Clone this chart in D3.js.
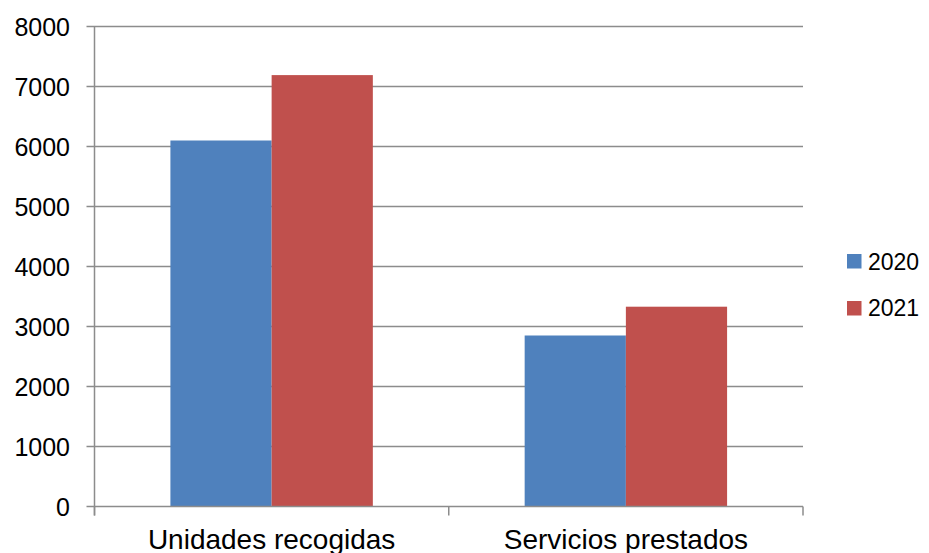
<!DOCTYPE html>
<html><head><meta charset="utf-8">
<script src="https://cdn.jsdelivr.net/npm/d3@7"></script>
<style>body{margin:0;background:#fff}svg{display:block}text{font-family:"Liberation Sans",Arial,sans-serif;fill:#000}</style>
</head><body><svg id="c" width="929" height="553"></svg>
<script>
const categories = ["Unidades recogidas", "Servicios prestados"];
const seriesNames = ["2020", "2021"];
const values2020 = [6100, 2850];
const values2021 = [7190, 3330];
const yTicks = [0, 1000, 2000, 3000, 4000, 5000, 6000, 7000, 8000];
const colors = ["#4F81BD", "#C0504D"];
const seriesValues = [values2020, values2021];

const svg = d3.select("#c");
const pLeft = 94.5, pRight = 803, pTop = 26.5, pBottom = 506.5;
const x = d3.scaleBand().domain(categories).range([pLeft, pRight]);
const x1 = d3.scaleBand().domain(seriesNames).range([0, x.bandwidth()]).paddingOuter(0.75).paddingInner(0);
const y = d3.scaleLinear().domain([0, 8000]).range([pBottom, pTop]);

// grid
svg.append("g").selectAll("line").data(yTicks.filter(d => d > 0)).join("line")
  .attr("x1", pLeft - 8).attr("x2", pRight).attr("y1", d => y(d)).attr("y2", d => y(d))
  .attr("stroke", "#8c8c8c").attr("stroke-width", 1.5);

// bars
categories.forEach((c, i) => {
  seriesNames.forEach((s, j) => {
    svg.append("rect")
      .attr("x", x(c) + x1(s)).attr("width", x1.bandwidth())
      .attr("y", y(seriesValues[j][i])).attr("height", y(0) - y(seriesValues[j][i]))
      .attr("fill", colors[j]);
  });
});

// axes lines
svg.append("line").attr("x1", pLeft).attr("x2", pLeft).attr("y1", pTop).attr("y2", pBottom + 9)
  .attr("stroke", "#8c8c8c").attr("stroke-width", 1.5);
svg.append("line").attr("x1", pLeft - 8).attr("x2", pRight).attr("y1", pBottom).attr("y2", pBottom)
  .attr("stroke", "#8c8c8c").attr("stroke-width", 1.5);
// category ticks
const catTicks = [pLeft, ...categories.map(c => x(c) + x.bandwidth())];
svg.append("g").selectAll("line").data(catTicks).join("line")
  .attr("x1", d => d).attr("x2", d => d).attr("y1", pBottom).attr("y2", pBottom + 9)
  .attr("stroke", "#8c8c8c").attr("stroke-width", 1.5);

// y labels
svg.append("g").selectAll("text").data(yTicks).join("text")
  .attr("x", 70).attr("y", d => y(d) + 9).attr("text-anchor", "end")
  .style("font-size", "25px").text(d => d);

// x labels
svg.append("g").selectAll("text").data(categories).join("text")
  .attr("x", d => x(d) + x.bandwidth() / 2).attr("y", 549).attr("text-anchor", "middle")
  .style("font-size", "28px").text(d => d);

// legend
const lg = svg.append("g");
seriesNames.forEach((s, j) => {
  lg.append("rect").attr("x", 847).attr("y", 254 + j * 47).attr("width", 14.5).attr("height", 14.5).attr("fill", colors[j]);
  lg.append("text").attr("x", 868).attr("y", 269.5 + j * 46.5).style("font-size", "23px").text(s);
});
</script></body></html>
